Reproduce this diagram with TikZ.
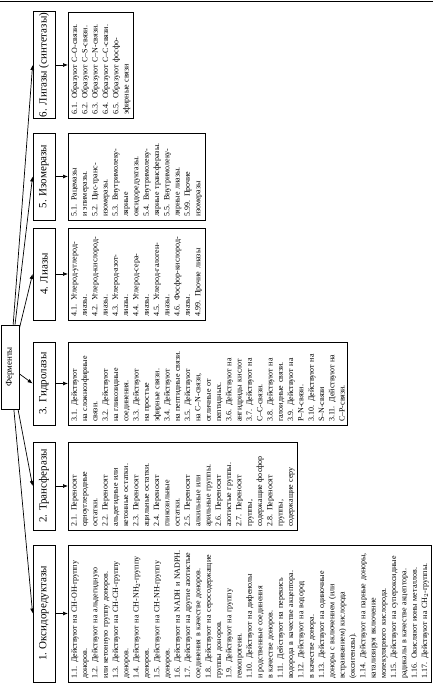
\documentclass[tikz,border=0pt]{standalone}
\usepackage{fontspec}
\setmainfont{Liberation Serif}
\usetikzlibrary{arrows.meta,positioning}
\tikzset{root/.style={draw,line width=.8pt,minimum width=84pt,minimum height=18pt,inner sep=1pt,font=\fontsize{9}{10}\selectfont},head/.style={draw,line width=.8pt,minimum height=22pt,inner sep=1pt,font=\fontsize{11}{13}\selectfont},list/.style={draw,line width=.8pt,anchor=north,align=left,inner xsep=3pt,inner ysep=3pt,font=\fontsize{8}{10.3}\selectfont},flow/.style={-{Latex[length=5pt,width=4pt]},line width=.7pt}}

\begin{document}
\begin{tikzpicture}[x=1pt,y=1pt,rotate=90,transform shape]
      \useasboundingbox (0,0) rectangle (685,-433);
      \draw[line width=.8pt] (684,0) -- (684,-433);
      \node[root] (enz) at (318,-10) {Ферменты};
      % classes
      \node[head,minimum width=137pt] (oxi) at (71.5,-44) {1. Оксидоредуктазы};
      \node[head,minimum width=88pt] (tra) at (199,-44) {2. Трансферазы};
      \node[head,minimum width=83pt] (hyd) at (301.5,-44) {3. Гидролазы};
      \node[head,minimum width=92pt] (lya) at (411,-44) {4. Лиазы};
      \node[head,minimum width=87pt] (iso) at (508.5,-44) {5. Изомеразы};
      \node[head,minimum width=106pt] (lig) at (620,-44) {6. Лигазы (синтетазы)};
      % subclasses
      \node[list,text width=131pt] (oxil) at (71.5,-68) {1.1. Действуют на CH-OH-группу\\доноров.\\1.2. Действуют на альдегидную\\или кетонную группу доноров.\\1.3. Действуют на CH-CH-группу\\доноров.\\1.4. Действуют на CH-NH$_2$-группу\\доноров.\\1.5. Действуют на CH-NH-группу\\доноров.\\1.6. Действуют на NADH и NADPH.\\1.7. Действуют на другие азотистые\\соединения в качестве доноров.\\1.8. Действуют на серосодержащие\\группы доноров.\\1.9. Действуют на группу\\гемопротеин.\\1.10. Действуют на дифенолы\\и родственные соединения\\в качестве доноров.\\1.11. Действуют на перекись\\водорода в качестве акцептора.\\1.12. Действуют на водород\\в качестве донора.\\1.13. Действуют на одиночные\\доноры с включением (или\\встраиванием) кислорода\\(оксигеназы).\\1.14. Действуют на парные доноры,\\катализируя включение\\молекулярного кислорода.\\1.15. Действуют на супероксидные\\радикалы в качестве акцептора.\\1.16. Окисляют ионы металлов.\\1.17. Действуют на CH$_2$-группы.};
      \node[list,text width=82pt] (tral) at (199,-68) {2.1. Переносят\\одноуглеродные\\остатки.\\2.2. Переносят\\альдегидные или\\кетонные остатки.\\2.3. Переносят\\ацильные остатки.\\2.4. Переносят\\гликозильные\\остатки.\\2.5. Переносят\\алкильные или\\арильные группы.\\2.6. Переносят\\азотистые группы.\\2.7. Переносят\\группы,\\содержащие фосфор\\2.8. Переносят\\группы,\\содержащие серу};
      \node[list,text width=77pt] (hydl) at (301.5,-68) {3.1. Действуют\\на сложноэфирные\\связи.\\3.2. Действуют\\на гликозидные\\соединения.\\3.3. Действуют\\на простые\\эфирные связи.\\3.4. Действуют\\на пептидные связи.\\3.5. Действуют\\на C--N-связи,\\отличные от\\пептидных.\\3.6. Действуют на\\ангидриды кислот\\3.7. Действуют на\\C--C-связи.\\3.8. Действуют на\\галоидные связи.\\3.9. Действуют на\\P--N-связи.\\3.10. Действуют на\\S--N-связи\\3.11. Действуют на\\C--P-связи.};
      \node[list,text width=86pt] (lyal) at (411,-68) {4.1. Углерод-углерод-\\лиазы.\\4.2. Углерод-кислород-\\лиазы.\\4.3. Углерод-азот-\\лиазы.\\4.4. Углерод-сера-\\лиазы.\\4.5. Углерод-галоген-\\лиазы.\\4.6. Фосфор-кислород-\\лиазы.\\4.99. Прочие лиазы};
      \node[list,text width=81pt] (isol) at (508.5,-68) {5.1. Рацемазы\\и эпимеразы.\\5.2. Цис-транс-\\изомеразы.\\5.3. Внутримолеку-\\лярные\\оксидоредуктазы.\\5.4. Внутримолеку-\\лярные трансферазы.\\5.5. Внутримолеку-\\лярные лиазы.\\5.99. Прочие\\изомеразы};
      \node[list,text width=100pt] (ligl) at (620,-68) {6.1. Образуют C--O-связи.\\6.2. Образуют C--S-связи.\\6.3. Образуют C--N-связи.\\6.4. Образуют C--C-связи.\\6.5. Образуют фосфо-\\эфирные связи};
      \draw[flow](enz)--(oxi.north);\draw[flow](enz)--(tra.north);\draw[flow](enz)--(hyd.north);
      \draw[flow](enz)--(lya.north);\draw[flow](enz)--(iso.north);\draw[flow](enz)--(lig.north);
      \draw[flow](oxi)--(oxil);\draw[flow](tra)--(tral);\draw[flow](hyd)--(hydl);
      \draw[flow](lya)--(lyal);\draw[flow](iso)--(isol);\draw[flow](lig)--(ligl);
    \end{tikzpicture}
\end{document}
